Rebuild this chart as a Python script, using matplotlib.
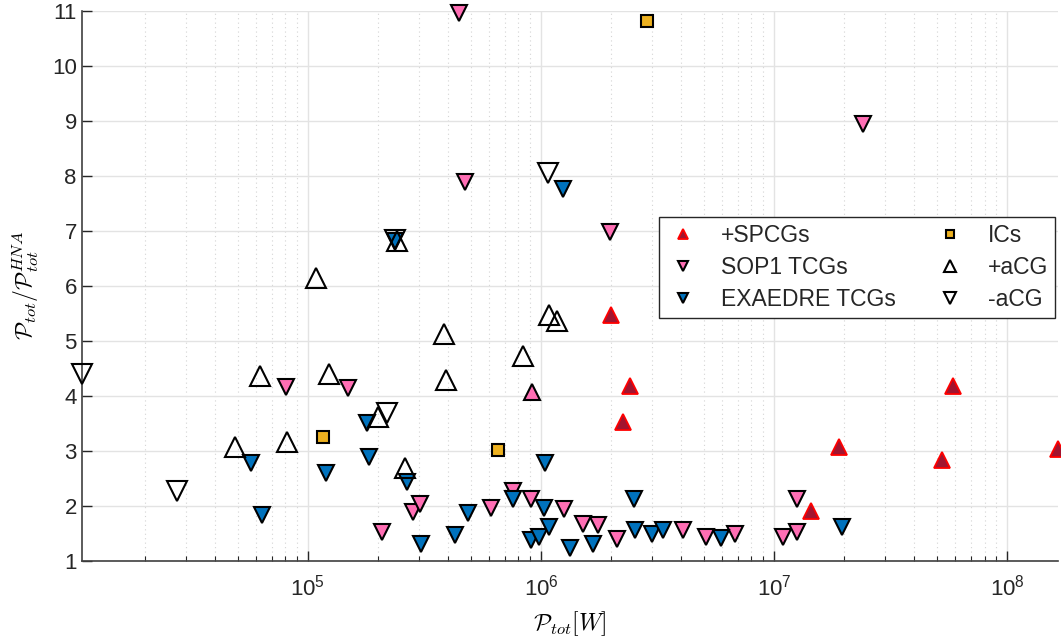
"""Power ratio vs total power scatter, several generator groups."""

import matplotlib

matplotlib.use("Agg")

import matplotlib.pyplot as plt
from matplotlib.ticker import FixedLocator, FixedFormatter, LogLocator, NullFormatter


# +SPCGs
spcg_x = [1.99e6, 2.42e6, 2.25e6, 1.44e7, 1.90e7, 5.25e7, 5.83e7, 1.65e8]
spcg_y = [5.47, 4.18, 3.53, 1.91, 3.07, 2.83, 4.18, 3.03]

# SOP1 TCGs
sop1_x = [8.02e4, 1.49e5, 2.07e5, 4.43e5, 4.70e5, 1.97e6, 2.41e7, 2.82e5,
          3.03e5, 6.11e5, 7.62e5, 9.06e5, 1.26e6, 1.51e6, 1.76e6, 2.12e6,
          4.05e6, 5.13e6, 6.78e6, 1.09e7, 1.26e7, 1.26e7]
sop1_y = [4.16, 4.15, 1.53, 10.96, 7.88, 6.97, 8.95, 1.89,
          2.04, 1.96, 2.26, 2.12, 1.94, 1.66, 1.65, 1.39,
          1.55, 1.44, 1.48, 1.43, 1.53, 2.13]

# EXAEDRE TCGs
exa_x = [5.68e4, 6.37e4, 1.20e5, 1.79e5, 1.82e5, 2.37e5, 1.24e6, 2.67e5,
         3.06e5, 4.28e5, 4.84e5, 7.62e5, 1.04e6, 1.03e6, 9.08e5, 9.77e5,
         1.08e6, 1.33e6, 1.67e6, 2.50e6, 2.54e6, 3.00e6, 3.34e6, 5.94e6,
         1.96e7]
exa_y = [2.77, 1.83, 2.60, 3.51, 2.89, 6.82, 7.77, 2.43,
         1.30, 1.47, 1.87, 2.13, 2.77, 1.96, 1.38, 1.43,
         1.61, 1.23, 1.30, 2.12, 1.56, 1.48, 1.55, 1.42,
         1.62]

# ICs
ic_x = [1.16e5, 6.56e5, 2.86e6]
ic_y = [3.25, 3.01, 10.82]

# +aCG
pacg_x = [4.87e4, 6.22e4, 8.15e4, 1.08e5, 1.235e5, 2.00e5, 2.61e5, 3.85e5,
          3.91e5, 8.41e5, 1.08e6, 1.17e6, 2.40e5]
pacg_y = [3.07, 4.36, 3.16, 6.15, 4.39, 3.62, 2.69, 5.12,
          4.29, 4.72, 5.47, 5.36, 6.82]

# -aCG
macg_x = [1.07e4, 2.74e4, 2.18e5, 1.07e6, 2.37e5]
macg_y = [4.39, 2.27, 3.69, 8.05, 6.84]

# odd one: SOP1 point drawn with an upward marker
sop1_up_x = [9.18e5]
sop1_up_y = [4.06]

x_ticks = [1e5, 1e6, 1e7, 1e8]
x_tick_labels = [r"$\mathregular{10^{5}}$", r"$\mathregular{10^{6}}$",
                 r"$\mathregular{10^{7}}$", r"$\mathregular{10^{8}}$"]
y_ticks = list(range(1, 12))

TEXT = "#262626"
BLUE = "#0072BD"
PINK = "#FF6EB4"
YELLOW = "#EDB120"
DARK_RED = "#A2142F"

plt.rcParams["font.family"] = ["Liberation Sans", "DejaVu Sans"]
plt.rcParams["mathtext.fontset"] = "cm"
plt.rcParams["text.color"] = TEXT

fig = plt.figure(figsize=(10.61, 6.43), dpi=100)
ax = fig.add_axes([0.077, 0.128, 0.920, 0.855])

common = dict(ls="none", clip_on=False)
ax.plot(spcg_x, spcg_y, marker="^", ms=12, mfc=DARK_RED, mec="#FF0000",
        mew=1.3, label="+SPCGs", zorder=3, **common)
ax.plot(sop1_x, sop1_y, marker="v", ms=12, mfc=PINK, mec="black",
        mew=1.5, label="SOP1 TCGs", zorder=3, **common)
ax.plot(exa_x, exa_y, marker="v", ms=12, mfc=BLUE, mec="black",
        mew=1.5, label="EXAEDRE TCGs", zorder=3, **common)
ax.plot(ic_x, ic_y, marker="s", ms=8.5, mfc=YELLOW, mec="black",
        mew=1.5, label="ICs", zorder=3, **common)
ax.plot(pacg_x, pacg_y, marker="^", ms=15, mfc="none", mec="black",
        mew=1.5, label="+aCG", zorder=4, **common)
ax.plot(macg_x, macg_y, marker="v", ms=15, mfc="none", mec="black",
        mew=1.5, label="-aCG", zorder=4, **common)
ax.plot(sop1_up_x, sop1_up_y, marker="^", ms=12, mfc=PINK, mec="black",
        mew=1.5, zorder=3, **common)

all_x = spcg_x + sop1_x + exa_x + ic_x + pacg_x + macg_x + sop1_up_x
ax.set_xscale("log")
ax.set_xlim(min(all_x), max(all_x))
ax.set_ylim(1, 11)

ax.xaxis.set_major_locator(FixedLocator(x_ticks))
ax.xaxis.set_major_formatter(FixedFormatter(x_tick_labels))
ax.xaxis.set_minor_locator(LogLocator(base=10, subs=range(2, 10), numticks=20))
ax.xaxis.set_minor_formatter(NullFormatter())
ax.set_yticks(y_ticks)

ax.grid(True, which="major", color="#e3e3e3", lw=1.0)
ax.grid(True, which="minor", axis="x", color="#d4d4d4", lw=0.8, ls=(0, (1, 3)))
ax.set_axisbelow(True)

for side in ("top", "right"):
    ax.spines[side].set_visible(False)
for side in ("left", "bottom"):
    ax.spines[side].set_color("#404040")
    ax.spines[side].set_linewidth(1.2)

ax.tick_params(which="both", direction="in", colors=TEXT, labelsize=16)
ax.tick_params(which="major", length=7, width=1)
ax.tick_params(which="minor", length=3.5, width=0.8)
ax.tick_params(axis="x", pad=10)

ax.set_xlabel(r"$\mathcal{P}_{tot}[W]$", fontsize=17, labelpad=6)
ax.set_ylabel(r"$\mathcal{P}_{tot}/\mathcal{P}_{tot}^{HNA}$", fontsize=17, labelpad=8)

leg = ax.legend(ncol=2, loc="upper right", bbox_to_anchor=(0.997, 0.625),
                fontsize=16.5, markerscale=0.6, frameon=True, fancybox=False,
                edgecolor="#262626", framealpha=1, borderpad=0.3,
                labelspacing=0.4, handlelength=1.5, handletextpad=0.9,
                columnspacing=1.6, borderaxespad=0)
leg.get_frame().set_linewidth(1.0)
leg.set_zorder(5)

fig.savefig("out.png", dpi=100)
